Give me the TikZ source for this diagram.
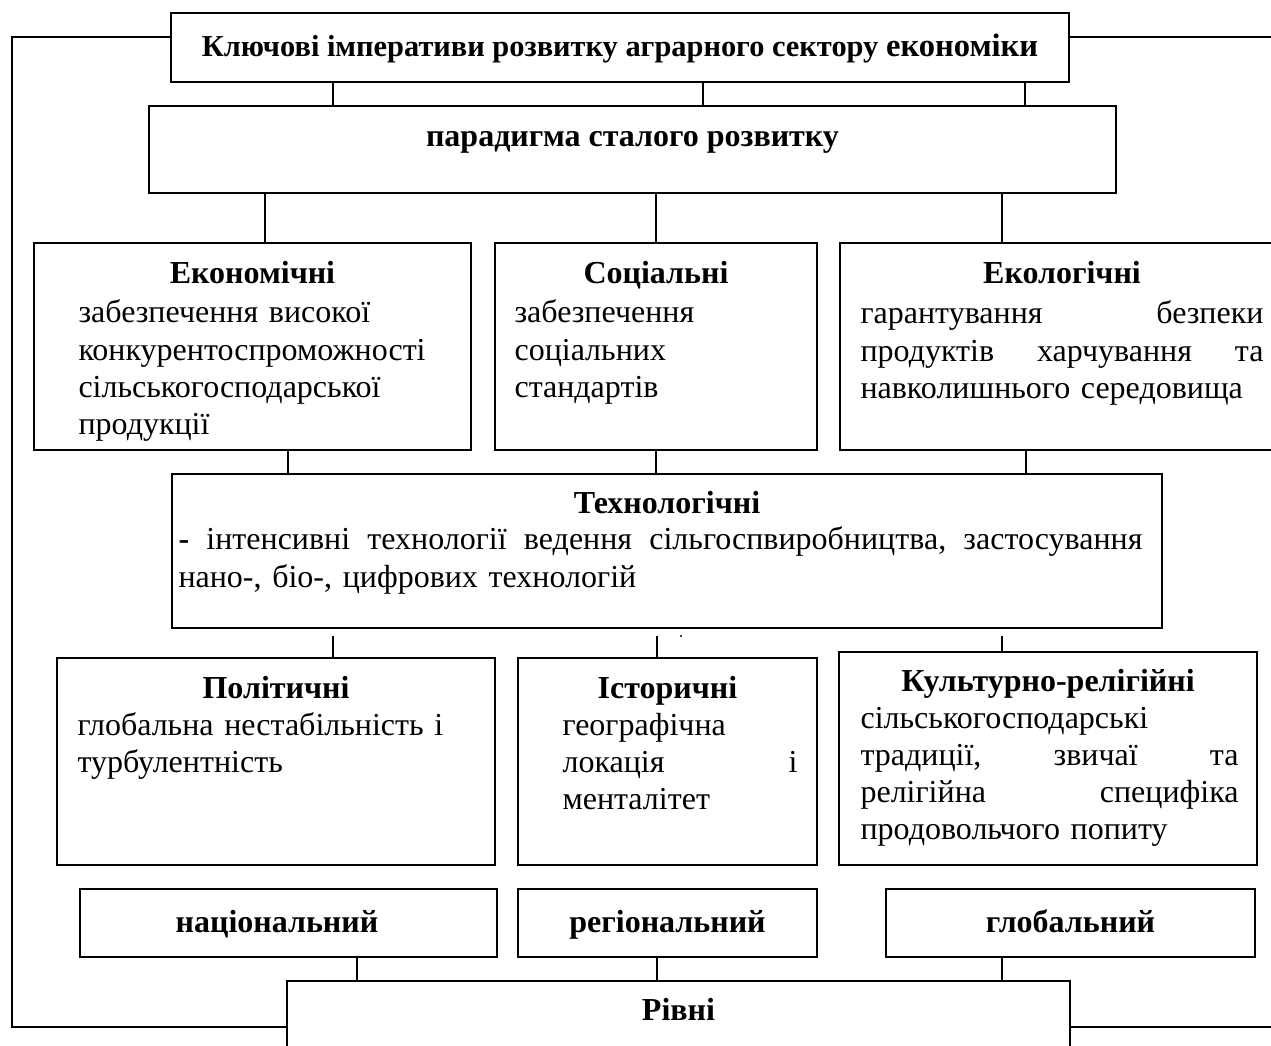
\documentclass[tikz,border=0pt]{standalone}
\usepackage{fontspec}
\setmainfont{Liberation Serif}
\usetikzlibrary{fit}
\newcommand{\jl}[2]{\makebox[#1][l]{#2}}

\begin{document}
\begin{tikzpicture}[x=0.375pt, y=-0.375pt,
  every node/.style={font=\fontsize{12}{13.9}\selectfont, inner sep=0pt},
  box/.style={draw, line width=0.75pt},
  link/.style={line width=0.6pt},
  head/.style={anchor=base, font=\fontsize{12}{13.9}\selectfont\bfseries},
  body/.style={anchor=base west, align=left}]
  \useasboundingbox (0,0) rectangle (1271,1046);

  % --------------------
  % Top boxes
  % --------------------
  \node[box, fit={(171,13) (1069,82)}] (imp) {};
  \node[head, font=\fontsize{11.4}{13.9}\selectfont\bfseries] (imph) at (imp.north |- 0,57) {Ключові імперативи розвитку аграрного сектору {\fontsize{12.2}{14}\selectfont економіки}};
  \node[box, fit={(149,106) (1116,193)}] (par) {};
  \node[head] (parh) at (par.north |- 0,147) {парадигма сталого розвитку};

  % --------------------
  % Economic / social / ecological
  % --------------------
  \node[box, fit={(34,243) (471,450)}] (econ) {};
  \node[head] (econh) at (econ.north |- 0,284) {Економічні};
  \node[body, text width=140pt] (econt) at (78,323) {забезпечення високої\\конкурентоспроможності\\сільськогосподарської\\продукції};

  \node[box, fit={(495,243) (817,450)}] (soc) {};
  \node[head] (soch) at (soc.north |- 0,284) {Соціальні};
  \node[body, text width=110pt] (soct) at (514,323) {забезпечення\\соціальних\\стандартів};

  \node[box, fit={(840,243) (1290,450)}] (ecol) {};
  \node[head] (ecolh) at (1062,284) {Екологічні};
  \node[body, text width=152pt] (ecolt) at (860,324) {\jl{151.1pt}{гарантування\hfill безпеки}\\\jl{151.1pt}{продуктів\hfill харчування\hfill та}\\навколишнього середовища};

  % --------------------
  % Technological
  % --------------------
  \node[box, fit={(172,474) (1162,628)}] (tech) {};
  \node[head] (techh) at (tech.north |- 0,514) {Технологічні};
  \node[body, text width=362pt] (techt) at (178,550) {\jl{361.5pt}{\textbf{-}\hfill інтенсивні\hfill технології\hfill ведення\hfill сільгоспвиробництва,\hfill застосування}\\нано-, біо-, цифрових технологій};

  % --------------------
  % Political / historical / cultural
  % --------------------
  \node[box, fit={(57,658) (495,865)}] (pol) {};
  \node[head] (polh) at (pol.north |- 0,698) {Політичні};
  \node[body, text width=160pt] (polt) at (77,735) {глобальна нестабільність і\\турбулентність};

  \node[box, fit={(518,658) (817,865)}] (hist) {};
  \node[head] (histh) at (hist.north |- 0,698) {Історичні};
  \node[body, text width=89pt] (histt) at (562,735) {географічна\\\jl{88.1pt}{локація\hfill і}\\менталітет};

  \node[box, fit={(839,652) (1257,865)}] (cult) {};
  \node[head] (culth) at (cult.north |- 0,691) {Культурно-релігійні};
  \node[body, text width=142pt] (cultt) at (860,728) {сільськогосподарські\\\jl{141.75pt}{традиції,\hfill звичаї\hfill та}\\\jl{141.75pt}{релігійна\hfill специфіка}\\продовольчого попиту};

  % --------------------
  % Levels
  % --------------------
  \node[box, fit={(80,889) (497,957)}] (nat) {};
  \node[head] (nath) at (277,932) {національний};
  \node[box, fit={(518,889) (817,957)}] (reg) {};
  \node[head] (regh) at (reg.north |- 0,932) {регіональний};
  \node[box, fit={(886,889) (1255,957)}] (glob) {};
  \node[head] (globh) at (glob.north |- 0,932) {глобальний};
  \node[box, fit={(287,981) (1070,1073)}] (riv) {};
  \node[head] (rivh) at (riv.north |- 0,1020) {Рівні};

  % connectors
  \foreach \x in {333,703,1025}
    \draw[link] (imp.south -| \x,0) -- (par.north -| \x,0);
  \foreach \x/\nm in {265/econ,656/soc,1002/ecol}
    \draw[link] (par.south -| \x,0) -- (\nm.north -| \x,0);
  \foreach \x/\nm in {288/econ,656/soc,1026/ecol}
    \draw[link] (\nm.south -| \x,0) -- (tech.north -| \x,0);
  \foreach \x/\nm in {333/pol,657/hist,1002/cult}
    \draw[link, shorten <=2.6pt] (tech.south -| \x,0) -- (\nm.north -| \x,0);
  \foreach \x/\nm in {357/nat,657/reg,1002/glob}
    \draw[link] (\nm.south -| \x,0) -- (riv.north -| \x,0);
  \fill (681,636) circle[radius=0.45pt];

  % outer frame line
  \coordinate (lt) at (12,37);
  \coordinate (rt) at (1290,37);
  \draw[line width=0.75pt] (imp.west |- lt) -- (lt) |- (riv.west);
  \draw[line width=0.75pt] (imp.east |- rt) -- (rt);
  \draw[line width=0.75pt] (riv.east) -- (riv.east -| rt);
\end{tikzpicture}
\end{document}
